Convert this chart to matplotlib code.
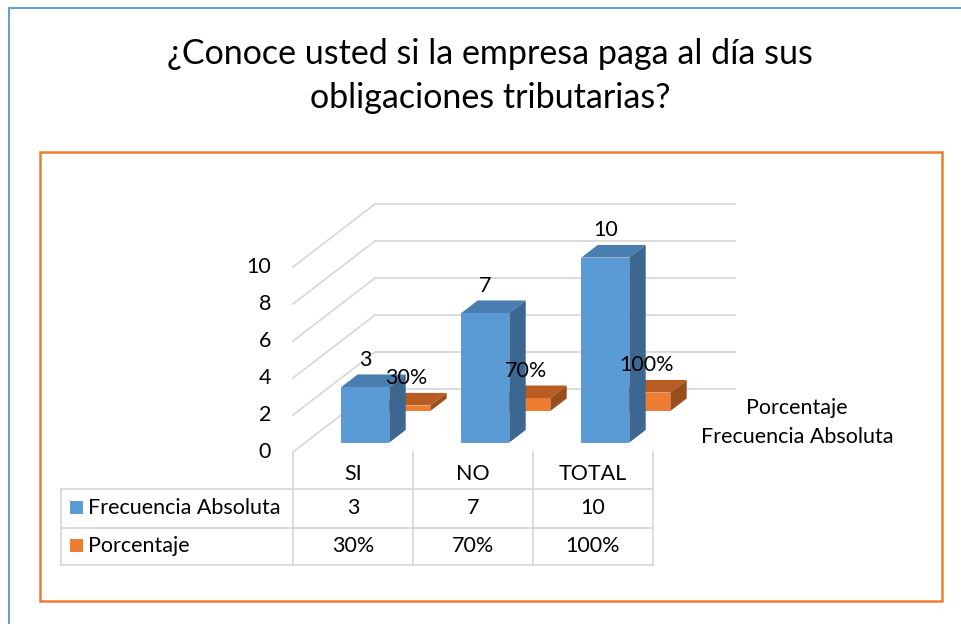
import matplotlib
matplotlib.use("Agg")
import matplotlib.pyplot as plt
from matplotlib.patches import Polygon, Rectangle
from matplotlib.lines import Line2D
import numpy as np

plt.rcParams["font.family"] = ["Lato", "DejaVu Sans"]

title = "¿Conoce usted si la empresa paga al día sus\nobligaciones tributarias?"
categories = ["SI", "NO", "TOTAL"]
frecuencia = [3, 7, 10]
porcentaje = [30, 70, 100]
series_names = ["Frecuencia Absoluta", "Porcentaje"]
y_ticks = [0, 2, 4, 6, 8, 10]

W, H = 961, 624
FS = 15.5
fig = plt.figure(figsize=(W / 100, H / 100), dpi=100)

# outer blue frame and orange chart frame (pixel layout)
fig.add_artist(Line2D([9 / W, 9 / W], [0, 1 - 8 / H], color="#6a9fd6", lw=1.5))
fig.add_artist(Line2D([9 / W, 1], [1 - 8 / H, 1 - 8 / H], color="#6a9fd6", lw=1.5))
fig.add_artist(Rectangle((40 / W, 1 - 601 / H), 902 / W, 449 / H, transform=fig.transFigure,
                         fill=False, edgecolor="#ED7D31", lw=1.8))
fig.text(490 / W, 1 - 76 / H, title, ha="center", va="center", fontsize=24.5, linespacing=1.45)

# axes area in pixels, data mapping: category step 120 px, 1 unit = 18.5 px
PX_X0, PX_Y0, STEP_X, STEP_Y = 293, 452, 120, 18.5
left, right, top, bottom = 45, 935, 160, 595
ax = fig.add_axes([left / W, 1 - bottom / H, (right - left) / W, (bottom - top) / H])
ax.set_xlim(-0.5 + (left - PX_X0) / STEP_X, -0.5 + (right - PX_X0) / STEP_X)
ax.set_ylim((PX_Y0 - bottom) / STEP_Y, (PX_Y0 - top) / STEP_Y)
ax.axis("off")

def px_x(p):
    return -0.5 + (p - PX_X0) / STEP_X

def px_y(p):
    return (PX_Y0 - p) / STEP_Y

DX, DY = 82 / STEP_X, 63 / STEP_Y  # depth vector
grid_c = "#d9d9d9"
x_left, x_right = -0.5, len(categories) - 0.5

# back wall and side wall gridlines
for v in y_ticks:
    ax.plot([x_left + DX, x_right + DX], [v + DY, v + DY], color=grid_c, lw=1.3, zorder=1)
    ax.plot([x_left, x_left + DX], [v, v + DY], color=grid_c, lw=1.3, zorder=1)
    ax.text(px_x(271), v, str(v), ha="right", va="center", fontsize=FS)

pos = np.arange(len(categories))
bw, bd = 0.4, 0.2
styles = [
    (np.array(frecuencia, float), [str(v) for v in frecuencia], 0.25, "#5B9BD5", "#4A7DB0", "#3C6790"),
    (np.array(porcentaje, float) / 100, [f"{v}%" for v in porcentaje], 0.75, "#ED7D31", "#B85C22", "#9A4E1B"),
]

# back row first
for k in [1, 0]:
    vals, labels, zc, c_front, c_top, c_side = styles[k]
    z0, z1 = zc - bd / 2, zc + bd / 2
    zo = 3 if k == 1 else 5
    ax.bar(pos + z0 * DX, vals, width=bw, bottom=z0 * DY, color=c_front, zorder=zo)
    for x, v, lab in zip(pos, vals, labels):
        xa, xb = x - bw / 2, x + bw / 2
        top_face = [(xa + z0 * DX, v + z0 * DY), (xb + z0 * DX, v + z0 * DY),
                    (xb + z1 * DX, v + z1 * DY), (xa + z1 * DX, v + z1 * DY)]
        side_face = [(xb + z0 * DX, z0 * DY), (xb + z1 * DX, z1 * DY),
                     (xb + z1 * DX, v + z1 * DY), (xb + z0 * DX, v + z0 * DY)]
        ax.add_patch(Polygon(top_face, closed=True, facecolor=c_top, edgecolor="none", zorder=zo))
        ax.add_patch(Polygon(side_face, closed=True, facecolor=c_side, edgecolor="none", zorder=zo))
        ax.annotate(lab, (x + z0 * DX, v + z0 * DY), xytext=(0, 19.5), textcoords="offset points",
                    ha="center", va="center", fontsize=FS, zorder=10)

# series (depth) axis labels
ax.text(px_x(797), 0.75 * DY - 0.15, series_names[1], ha="center", va="center", fontsize=FS)
ax.text(px_x(797), 0.25 * DY - 0.05, series_names[0], ha="center", va="center", fontsize=FS)

# data table
row_y = [px_y(452), px_y(489), px_y(528), px_y(565)]
tl = px_x(61)
lw_t = 1.3
for yy in row_y[1:]:
    ax.plot([tl, x_right], [yy, yy], color=grid_c, lw=lw_t, zorder=1)
ax.plot([tl, tl], [row_y[1], row_y[3]], color=grid_c, lw=lw_t, zorder=1)
for xx in np.arange(len(categories) + 1) - 0.5:
    ax.plot([xx, xx], [row_y[0], row_y[3]], color=grid_c, lw=lw_t, zorder=1)

for x, c in zip(pos, categories):
    ax.text(x, (row_y[0] + row_y[1]) / 2 - 3.5 / STEP_Y, c, ha="center", va="center", fontsize=FS)
table_rows = [(series_names[0], styles[0][1], styles[0][3]),
              (series_names[1], styles[1][1], styles[1][3])]
for r, (name, labels, col) in enumerate(table_rows):
    yc = (row_y[r + 1] + row_y[r + 2]) / 2 + 1 / STEP_Y
    ax.add_patch(Rectangle((px_x(70), yc - 6.5 / STEP_Y), 13 / STEP_X, 13 / STEP_Y,
                           facecolor=col, edgecolor="none"))
    ax.text(px_x(88), yc, name, ha="left", va="center", fontsize=FS)
    for x, lab in zip(pos, labels):
        ax.text(x, yc, lab, ha="center", va="center", fontsize=FS)

fig.savefig("out.png", dpi=100)
